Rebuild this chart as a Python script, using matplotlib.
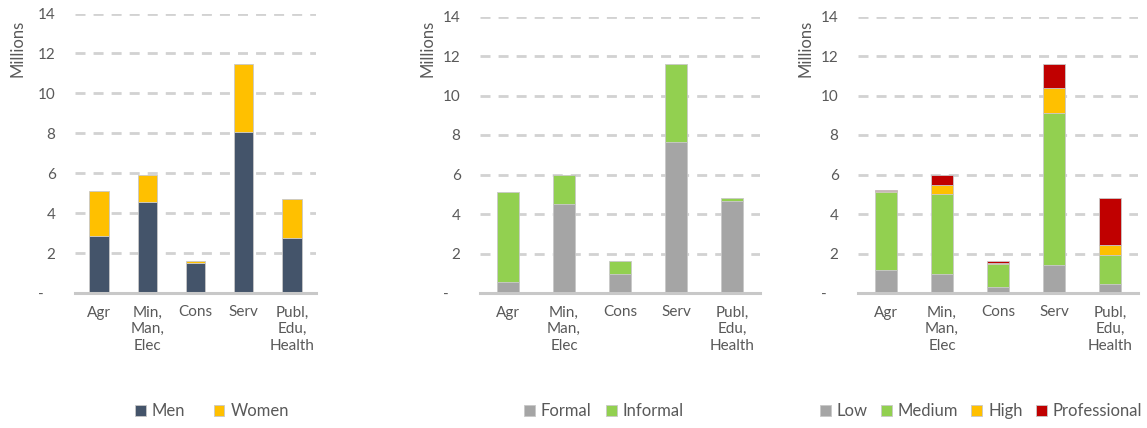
import matplotlib
matplotlib.use("Agg")
import matplotlib.pyplot as plt
from matplotlib.ticker import FuncFormatter
import numpy as np

plt.rcParams['font.family'] = ['Lato', 'DejaVu Sans']
plt.rcParams['lines.scale_dashes'] = False

# data (millions of workers)
sectors = ['Agr', 'Min,\nMan,\nElec', 'Cons', 'Serv', 'Publ,\nEdu,\nHealth']

men = [2.88, 4.55, 1.52, 8.07, 2.75]
women = [2.25, 1.35, 0.06, 3.41, 1.98]

formal = [0.57, 4.49, 0.98, 7.66, 4.64]
informal = [4.56, 1.49, 0.64, 3.91, 0.16]

low = [1.16, 0.96, 0.32, 1.42, 0.46]
medium = [3.97, 4.04, 1.13, 7.68, 1.48]
high = [0.02, 0.46, 0.07, 1.30, 0.48]
professional = [0.05, 0.52, 0.10, 1.17, 2.38]

panels = [
    ([men, women], ['Men', 'Women'], ['#44546A', '#FFC000']),
    ([formal, informal], ['Formal', 'Informal'], ['#A5A5A5', '#92D050']),
    ([low, medium, high, professional], ['Low', 'Medium', 'High', 'Professional'],
     ['#A5A5A5', '#92D050', '#FFC000', '#C00000']),
]

W, H = 1147, 428
# axes boxes in pixels: left, right, top, bottom
boxes = [(75, 316, 13.5, 293), (480, 760, 16.5, 293), (858, 1138, 16.5, 293)]
label_x = [17, 427, 805]
legend_x = [212, 604, 981]
col_space = [1.7, 0.9, 0.8]

txt = '#595959'
fig = plt.figure(figsize=(W / 100, H / 100), dpi=100)

for (series, names, colors), (l, r, t, b), yx, lx, cs in zip(panels, boxes, label_x, legend_x, col_space):
    ax = fig.add_axes([l / W, 1 - b / H, (r - l) / W, (b - t) / H])
    x = np.arange(len(sectors))
    bottom = np.zeros(len(sectors))
    for vals, name, c in zip(series, names, colors):
        ax.bar(x, vals, 0.4, bottom=bottom, color=c, label=name,
               edgecolor='#C8C8C8', linewidth=0.6)
        bottom += np.array(vals)

    ax.set_xlim(-0.5, len(sectors) - 0.5)
    ax.set_ylim(0, 14)
    ax.set_yticks(range(0, 15, 2))
    ax.yaxis.set_major_formatter(FuncFormatter(lambda v, p: '-   ' if v == 0 else f'{v:.0f}'))
    ax.set_xticks(x)
    ax.set_xticklabels(sectors, linespacing=1.25)
    ax.tick_params(axis='both', length=0, colors=txt, labelsize=11)
    ax.tick_params(axis='y', pad=14)
    ax.tick_params(axis='x', pad=9)

    ax.set_axisbelow(True)
    ax.grid(axis='y', color='#D2D2D2', linewidth=2.0, linestyle=(0, (7.2, 5.8)))
    ax.yaxis.get_gridlines()[0].set_visible(False)
    for s in ['top', 'right', 'left']:
        ax.spines[s].set_visible(False)
    ax.spines['bottom'].set_color('#C8C8C8')
    ax.spines['bottom'].set_linewidth(2.2)

    fig.text(yx / W, 1 - 20 / H, 'Millions', rotation=90, ha='center', va='top',
             color=txt, fontsize=12)

    ax.legend(loc='center', bbox_to_anchor=(lx / W, 1 - 411 / H),
              bbox_transform=fig.transFigure, ncol=len(names), frameon=False,
              fontsize=12, labelcolor=txt, handlelength=0.65, handleheight=0.65,
              handletextpad=0.35, columnspacing=cs, borderaxespad=0)

fig.savefig('out.png', dpi=100)
